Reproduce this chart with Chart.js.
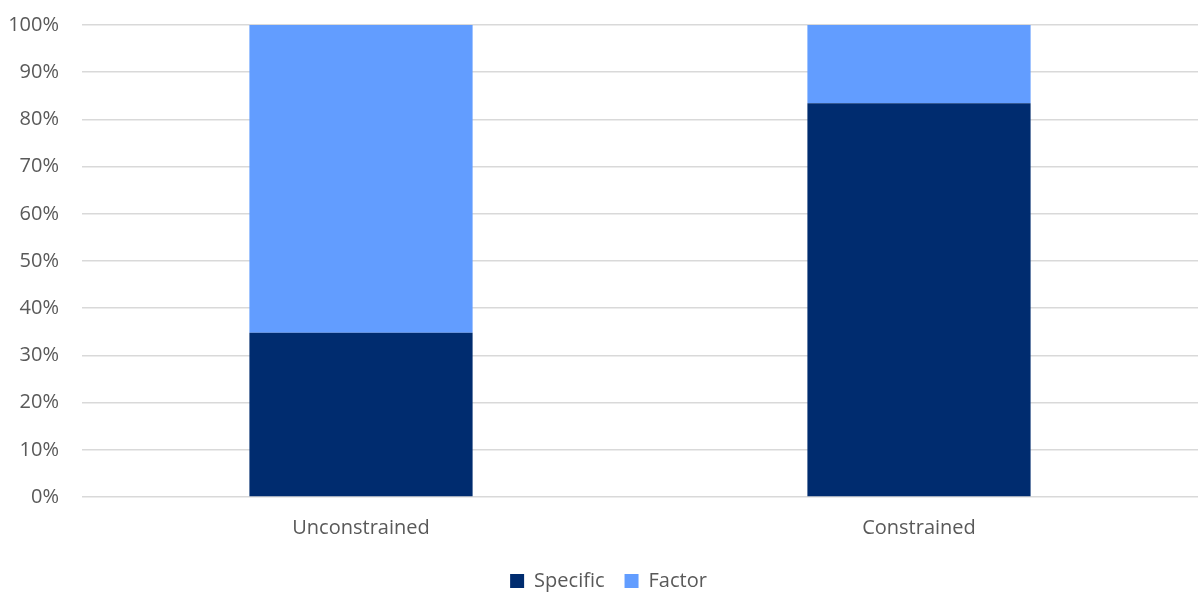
<!DOCTYPE html>
<html><head><meta charset="utf-8">
<script src="https://cdn.jsdelivr.net/npm/chart.js@4/dist/chart.umd.min.js"></script>
<style>html,body{margin:0;padding:0;background:#fff;}#wrap{width:1198px;height:592px;position:relative;}</style>
</head><body><div id="wrap"><canvas id="c"></canvas></div>
<script>
const categories = ["Unconstrained", "Constrained"];
const specific = [34.8, 83.4];
const factor = [65.2, 16.6];
const yTicks = [0,10,20,30,40,50,60,70,80,90,100];

const FONT = {family: "'Open Sans'", size: 20};
new Chart(document.getElementById('c'), {
  type: 'bar',
  data: {
    labels: categories,
    datasets: [
      {label: 'Specific', data: specific, backgroundColor: '#002C6F', borderWidth: 0, barPercentage: 0.4, categoryPercentage: 1},
      {label: 'Factor', data: factor, backgroundColor: '#629DFF', borderWidth: 0, barPercentage: 0.4, categoryPercentage: 1}
    ]
  },
  options: {
    responsive: true, maintainAspectRatio: false, animation: false,
    layout: {padding: {top: 25, right: -13, left: 6, bottom: -9}},
    plugins: {
      legend: {position: 'bottom', labels: {boxWidth: 14, boxHeight: 14, padding: 20, color: '#595959', font: FONT}},
      tooltip: {enabled: false}
    },
    scales: {
      x: {stacked: true, grid: {display: false}, border: {display: false},
          ticks: {color: '#595959', font: FONT, padding: 11}},
      y: {stacked: true, min: 0, max: 100, afterBuildTicks: ax => { ax.ticks = yTicks.map(v => ({value: v})); },
          afterFit: ax => { ax.width = 76; ax.paddingTop = 0; ax.paddingBottom = 0; },
          grid: {color: '#D9D9D9', lineWidth: 1.5, drawTicks: false}, border: {display: false},
          ticks: {color: '#595959', font: FONT, padding: 23, callback: v => v + '%'}}
    }
  }
});
</script></body></html>
